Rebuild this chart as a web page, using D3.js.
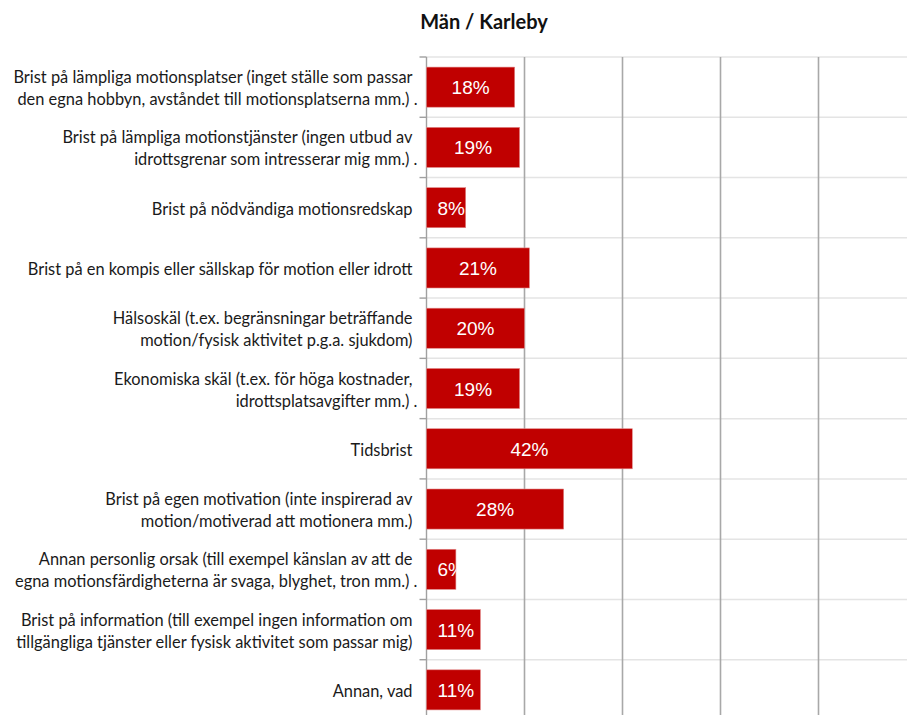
<!DOCTYPE html>
<html>
<head>
<meta charset="utf-8">
<script src="https://cdnjs.cloudflare.com/ajax/libs/d3/7.8.5/d3.min.js"></script>
<style>
  body { margin: 0; background: #fff; }
  svg { display: block; }
</style>
</head>
<body>
<svg width="907" height="715"></svg>
<script>
// Chart data
var title = "Män / Karleby";

var categories = [
  ["Brist på lämpliga motionsplatser (inget ställe som passar", "den egna hobbyn, avståndet till motionsplatserna mm.) ."],
  ["Brist på lämpliga motionstjänster (ingen utbud av", "idrottsgrenar som intresserar mig mm.) ."],
  ["Brist på nödvändiga motionsredskap"],
  ["Brist på en kompis eller sällskap för motion eller idrott"],
  ["Hälsoskäl (t.ex. begränsningar beträffande", "motion/fysisk aktivitet p.g.a. sjukdom)"],
  ["Ekonomiska skäl (t.ex. för höga kostnader,", "idrottsplatsavgifter mm.) ."],
  ["Tidsbrist"],
  ["Brist på egen motivation (inte inspirerad av", "motion/motiverad att motionera mm.)"],
  ["Annan personlig orsak (till exempel känslan av att de", "egna motionsfärdigheterna är svaga, blyghet, tron mm.) ."],
  ["Brist på information (till exempel ingen information om", "tillgängliga tjänster eller fysisk aktivitet som passar mig)"],
  ["Annan, vad"]
];

var values = [18, 19, 8, 21, 20, 19, 42, 28, 6, 11, 11];

var gridTicks = [20, 40, 60, 80, 100];

// Layout
var svg = d3.select("svg"),
    margin = {top: 57, left: 426.5},
    plotWidth = 490,
    plotHeight = 663,
    g = svg.append("g")
      .attr("transform", "translate(" + margin.left + "," + margin.top + ")");

var x = d3.scaleLinear().domain([0, 100]).range([0, plotWidth]);
var y = d3.scaleBand()
    .domain(d3.range(categories.length))
    .range([0, plotHeight])
    .paddingInner(0.335)
    .paddingOuter(0.1675);

var half = (y.step() - y.bandwidth()) / 2;
var bounds = d3.range(categories.length + 1).map(function(i) {
  return i < categories.length ? y(i) - half : y(i - 1) + y.bandwidth() + half;
});

// Title
svg.append("text")
  .attr("x", 484)
  .attr("y", 29)
  .attr("text-anchor", "middle")
  .style("font-family", "Lato, sans-serif")
  .style("font-weight", "bold")
  .style("font-size", "20px")
  .style("fill", "#111")
  .text(title);

// Horizontal grid lines at row boundaries
g.selectAll(".hgrid")
  .data(bounds)
  .enter().append("line")
    .attr("class", "hgrid")
    .attr("x1", 0)
    .attr("x2", 907 - margin.left)
    .attr("y1", function(d) { return d; })
    .attr("y2", function(d) { return d; })
    .attr("stroke", "#e4e4e4")
    .attr("stroke-width", 1.5);

// Vertical grid lines
g.selectAll(".vgrid")
  .data(gridTicks)
  .enter().append("line")
    .attr("class", "vgrid")
    .attr("x1", function(d) { return x(d); })
    .attr("x2", function(d) { return x(d); })
    .attr("y1", 0)
    .attr("y2", plotHeight)
    .attr("stroke", "#a8a8a8")
    .attr("stroke-width", 1.6);

// Axis line and ticks
g.append("line")
  .attr("x1", 0).attr("x2", 0)
  .attr("y1", 0).attr("y2", plotHeight)
  .attr("stroke", "#a0a0a0")
  .attr("stroke-width", 1.4);

g.selectAll(".tick")
  .data(bounds)
  .enter().append("line")
    .attr("class", "tick")
    .attr("x1", -7)
    .attr("x2", 0)
    .attr("y1", function(d) { return d; })
    .attr("y2", function(d) { return d; })
    .attr("stroke", "#a0a0a0")
    .attr("stroke-width", 1.4);

// Category labels
var labels = g.selectAll(".label")
  .data(categories)
  .enter().append("text")
    .attr("class", "label")
    .attr("text-anchor", "end")
    .style("font-family", "Lato, sans-serif")
    .style("font-size", "16.4px")
    .style("fill", "#1a1a1a")
    .attr("transform", function(d, i) {
      var c = y(i) + y.bandwidth() / 2;
      var base = d.length === 1 ? c + 7 : c + 7 - 11;
      return "translate(-14," + base + ")";
    });

labels.selectAll("tspan")
  .data(function(d) { return d; })
  .enter().append("tspan")
    .attr("x", function(d) { return /\s\.$/.test(d) ? 5 : 0; })
    .attr("dy", function(d, j) { return j === 0 ? 0 : 22; })
    .text(function(d) { return d; });

// Bars
var defs = svg.append("defs");
defs.selectAll("clipPath")
  .data(values)
  .enter().append("clipPath")
    .attr("id", function(d, i) { return "clip" + i; })
  .append("rect")
    .attr("x", 0)
    .attr("y", function(d, i) { return y(i); })
    .attr("width", function(d) { return x(d); })
    .attr("height", y.bandwidth());

g.selectAll(".bar")
  .data(values)
  .enter().append("rect")
    .attr("class", "bar")
    .attr("x", 0)
    .attr("y", function(d, i) { return y(i); })
    .attr("width", function(d) { return x(d); })
    .attr("height", y.bandwidth())
    .attr("fill", "#c00000")
    .attr("stroke", "#e28a8a")
    .attr("stroke-width", 0.6);

// Value labels, clipped to the bar
g.selectAll(".value")
  .data(values)
  .enter().append("text")
    .attr("class", "value")
    .attr("clip-path", function(d, i) { return "url(#clip" + i + ")"; })
    .attr("y", function(d, i) { return y(i) + y.bandwidth() / 2 + 7; })
    .attr("text-anchor", "middle")
    .style("font-family", "'Liberation Sans', Arial, sans-serif")
    .style("font-size", "19px")
    .style("fill", "#fff")
    .text(function(d) { return d + "%"; })
    .attr("x", function(d) {
      var w = this.getComputedTextLength();
      return Math.max(x(d) / 2, 11 + w / 2);
    });
</script>
</body>
</html>
